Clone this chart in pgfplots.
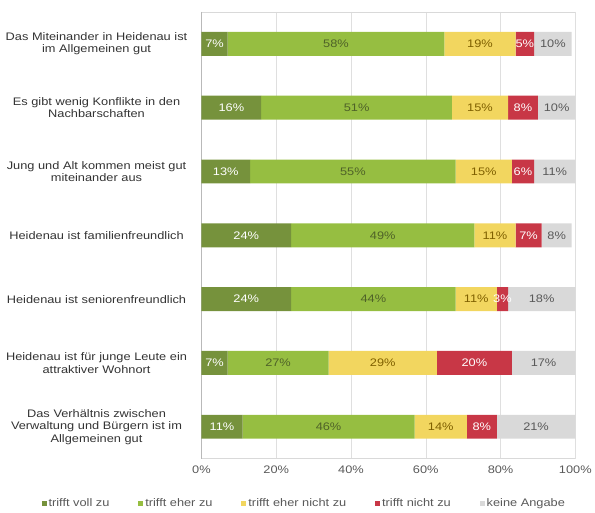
\documentclass[border=0pt]{standalone}
\usepackage{fontspec}
\setmainfont{Liberation Sans}[FakeStretch=1.17]
\usepackage{pgfplots}
\pgfplotsset{compat=1.18}
\definecolor{VollZu}{RGB}{118,146,60}
\definecolor{EherZu}{RGB}{150,190,65}
\definecolor{EherNicht}{RGB}{242,214,95}
\definecolor{NichtZu}{RGB}{200,55,70}
\definecolor{KeineAng}{RGB}{217,217,217}
\definecolor{TxtGray}{RGB}{89,89,89}
\definecolor{TxtOlive}{RGB}{79,98,40}
\definecolor{TxtBrown}{RGB}{127,96,0}

\begin{document}
\begin{tikzpicture}
\begin{axis}[
    xbar stacked,
    width=375bp, height=448bp, scale only axis,
    xmin=0, xmax=100, ymin=-0.5, ymax=6.5, y dir=reverse,
    bar width=24bp,
    font=\fontsize{11}{12.5}\selectfont,
    xtick={0,20,...,100},
    xticklabel={\pgfmathprintnumber{\tick}\%},
    /pgf/number format/assume math mode=true,
    xticklabel style={text=TxtGray, yshift=-4bp},
    ytick={0,...,6},
    yticklabels={
      {Das Miteinander in Heidenau ist\\im Allgemeinen gut},
      {Es gibt wenig Konflikte in den\\Nachbarschaften},
      {Jung und Alt kommen meist gut\\miteinander aus},
      {Heidenau ist familienfreundlich},
      {Heidenau ist seniorenfreundlich},
      {Heidenau ist für junge Leute ein\\attraktiver Wohnort},
      {Das Verhältnis zwischen\\Verwaltung und Bürgern ist im\\Allgemeinen gut}},
    yticklabel style={align=center, text width=186bp, inner sep=0pt, xshift=-12bp, text=black!80},
    tick style={draw=none},
    xmajorgrids, grid style={gray!25},
    axis line style={gray!30},
    axis y line*=left, y axis line style={gray!55},
    visualization depends on={rawx \as \rawx},
    nodes near coords={\pgfmathprintnumber[fixed, precision=0]{\rawx}\%},
    every node near coord/.append style={anchor=center, font=\fontsize{11}{12}\selectfont},
    legend style={at={(0.275,-0.1)}, anchor=center, legend columns=5, draw=none,
      font=\fontsize{11}{12}\selectfont, text=TxtGray,
      /tikz/every even column/.append style={column sep=27bp}},
    legend image code/.code={\fill[#1] (0bp,-2.5bp) rectangle (5bp,2.5bp);},
]
\addplot[fill=VollZu, draw=none, every node near coord/.append style={text=white}]
  coordinates {(7,0) (16,1) (13,2) (24,3) (24,4) (7,5) (11,6)};
\addplot[fill=EherZu, draw=none, every node near coord/.append style={text=TxtOlive}]
  coordinates {(58,0) (51,1) (55,2) (49,3) (44,4) (27,5) (46,6)};
\addplot[fill=EherNicht, draw=none, every node near coord/.append style={text=TxtBrown}]
  coordinates {(19,0) (15,1) (15,2) (11,3) (11,4) (29,5) (14,6)};
\addplot[fill=NichtZu, draw=none, every node near coord/.append style={text=white}]
  coordinates {(5,0) (8,1) (6,2) (7,3) (3,4) (20,5) (8,6)};
\addplot[fill=KeineAng, draw=none, every node near coord/.append style={text=TxtGray}]
  coordinates {(10,0) (10,1) (11,2) (8,3) (18,4) (17,5) (21,6)};
\legend{trifft voll zu, trifft eher zu, trifft eher nicht zu, trifft nicht zu, keine Angabe}
\end{axis}
\path (current axis.south west) ++(-202bp,-52bp) rectangle ++(595bp,512bp);
\end{tikzpicture}
\end{document}
